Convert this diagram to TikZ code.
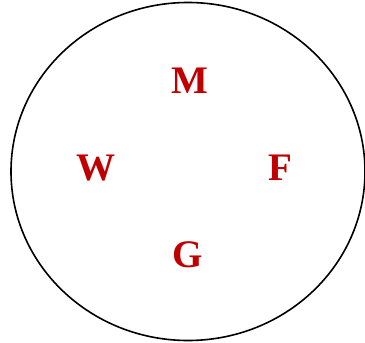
\documentclass[tikz,border=0pt]{standalone}
\usepackage{fontspec}
\setmainfont{Liberation Serif}
\usetikzlibrary{shapes.geometric}
\definecolor{letterred}{HTML}{C00000}
\begin{document}
\begin{tikzpicture}[x=1pt,y=-1pt,
  lett/.style={text=letterred,font=\fontsize{39}{40}\selectfont\bfseries,inner sep=0pt,anchor=center}]
\useasboundingbox (0,0) rectangle (365,343);
\node[draw,line width=1.6pt,ellipse,minimum width=354pt,minimum height=338pt,inner sep=0pt] (e) at (188,171.5) {};
\node[lett] (m) at (190,81) {M};
\node[lett] (w) at (95.5,168) {W};
\node[lett] (f) at (280,168) {F};
\node[lett] (g) at (187.5,255) {G};
\end{tikzpicture}
\end{document}
